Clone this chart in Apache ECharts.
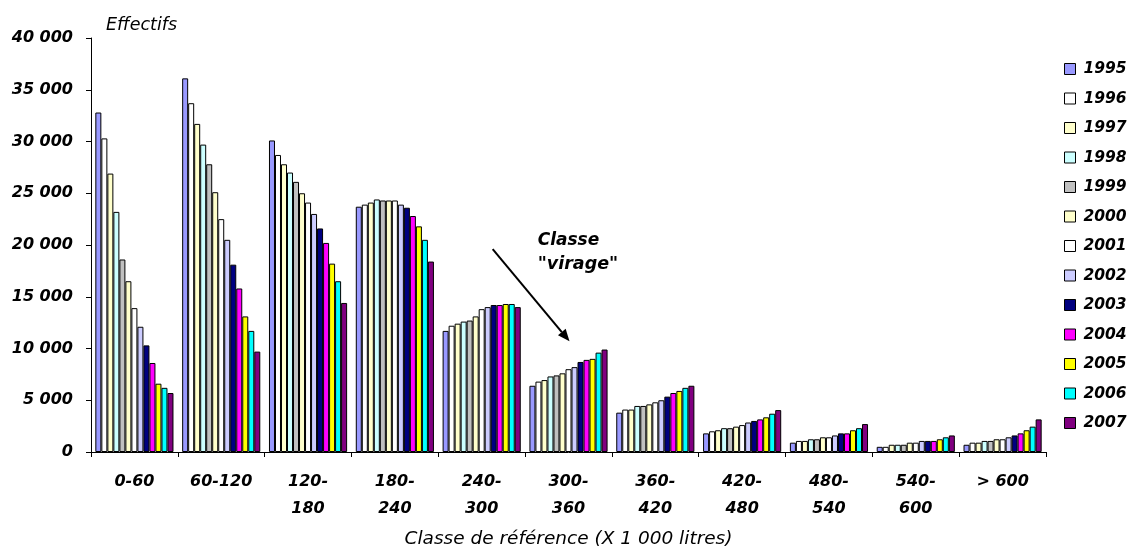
<!DOCTYPE html>
<html>
<head>
<meta charset="utf-8">
<script src="https://cdn.jsdelivr.net/npm/echarts@6/dist/echarts.min.js"></script>
<style>html,body{margin:0;padding:0;background:#fff}#c{width:1128px;height:547px}</style>
</head>
<body>
<div id="c"></div>
<script>
var categories = ['0-60','60-120','120-180','180-240','240-300','300-360','360-420','420-480','480-540','540-600','> 600'];
var years = ['1995','1996','1997','1998','1999','2000','2001','2002','2003','2004','2005','2006','2007'];
var colors = ['#9999FF','#FFFFFF','#FFFFCC','#CCFFFF','#C0C0C0','#FFFFCC','#FFFFFF','#CCCCFF','#000080','#FF00FF','#FFFF00','#00FFFF','#800080'];
var yTicks = {min: 0, max: 40000, interval: 5000};

var v1995 = [32800,36100,30100,23700,11700,6400,3800,1800,900,500,700];
var v1996 = [30300,33700,28700,23900,12200,6800,4100,2000,1070,500,900];
var v1997 = [26900,31700,27800,24100,12400,6950,4100,2100,1070,700,900];
var v1998 = [23200,29700,27000,24400,12600,7300,4450,2300,1230,700,1070];
var v1999 = [18600,27800,26100,24300,12700,7400,4450,2300,1230,700,1070];
var v2000 = [16500,25100,25000,24300,13100,7600,4600,2450,1420,900,1230];
var v2001 = [13900,22500,24100,24300,13800,8000,4800,2600,1420,900,1230];
var v2002 = [12100,20500,23000,23900,14000,8200,5000,2850,1600,1070,1420];
var v2003 = [10300,18100,21600,23600,14200,8700,5350,3000,1800,1070,1600];
var v2004 = [8600,15800,20200,22800,14200,8900,5700,3150,1800,1070,1800];
var v2005 = [6600,13100,18200,21800,14300,9000,5900,3350,2100,1230,2100];
var v2006 = [6200,11700,16500,20500,14300,9600,6200,3700,2300,1420,2450];
var v2007 = [5700,9700,14400,18400,14000,9900,6400,4050,2700,1600,3150];
var values = [v1995,v1996,v1997,v1998,v1999,v2000,v2001,v2002,v2003,v2004,v2005,v2006,v2007];

var FONT = 'DejaVu Sans';
var chart = echarts.init(document.getElementById('c'));

var series = years.map(function (y, i) {
  return {
    name: y,
    type: 'bar',
    data: values[i],
    barGap: '0%',
    barCategoryGap: '10%',
    itemStyle: {color: colors[i], borderColor: '#000', borderWidth: 1},
    emphasis: {disabled: true},
    animation: false
  };
});

chart.setOption({
  animation: false,
  title: {
    text: 'Effectifs', left: 101, top: 11,
    textStyle: {fontFamily: FONT, fontSize: 17.5, fontStyle: 'italic', fontWeight: 'normal', color: '#000'}
  },
  grid: {left: 91, right: 82, top: 38, bottom: 95, containLabel: false, outerBoundsMode: 'none'},
  legend: {
    orient: 'vertical', left: 1059, top: 56,
    itemWidth: 11, itemHeight: 11, itemGap: 13.5,
    icon: 'rect',
    itemStyle: {borderColor: '#000', borderWidth: 1},
    textStyle: {fontFamily: FONT, fontSize: 15.5, fontWeight: 'bold', fontStyle: 'italic', color: '#000', lineHeight: 16, padding: [0,0,0,3]},
    data: years
  },
  xAxis: {
    type: 'category',
    data: categories,
    name: 'Classe de référence (X 1 000 litres)',
    nameLocation: 'middle',
    nameGap: 78,
    nameTextStyle: {fontFamily: FONT, fontSize: 18.5, fontStyle: 'italic', fontWeight: 'normal', color: '#000'},
    axisLine: {lineStyle: {color: '#000', width: 1}},
    axisTick: {show: true, length: 5, lineStyle: {color: '#000'}},
    axisLabel: {
      interval: 0, margin: 16, color: '#000',
      fontFamily: FONT, fontSize: 16, fontWeight: 'bold', fontStyle: 'italic', lineHeight: 27,
      formatter: function (s) { return s.length >= 7 ? s.replace('-', '-\n') : s; }
    },
    splitLine: {show: false}
  },
  yAxis: {
    type: 'value',
    min: yTicks.min, max: yTicks.max, interval: yTicks.interval,
    axisLine: {show: true, lineStyle: {color: '#000', width: 1}},
    axisTick: {show: true, length: 5, lineStyle: {color: '#000'}},
    axisLabel: {
      margin: 18, color: '#000',
      fontFamily: FONT, fontSize: 16, fontWeight: 'bold', fontStyle: 'italic',
      formatter: function (v) { return String(v).replace(/\B(?=(\d{3})+(?!\d))/g, ' '); }
    },
    splitLine: {show: false}
  },
  series: series
});

// Annotation "Classe virage" arrow, positioned through the chart's scales
var p0 = chart.convertToPixel({gridIndex: 0}, [categories[4], 19600]);
var p1 = chart.convertToPixel({gridIndex: 0}, [categories[5], 10700]);
var x0 = p0[0] + 11, y0 = p0[1], x1 = p1[0] + 1, y1 = p1[1];
var ang = Math.atan2(y1 - y0, x1 - x0);
var hl = 12, hw = 5;
var bx = x1 - hl * Math.cos(ang), by = y1 - hl * Math.sin(ang);
var nx = -Math.sin(ang), ny = Math.cos(ang);
chart.setOption({
  graphic: [
    {type: 'line', shape: {x1: x0, y1: y0, x2: bx, y2: by}, style: {stroke: '#000', lineWidth: 2}, silent: true},
    {type: 'polygon', shape: {points: [[x1, y1], [bx + nx * hw, by + ny * hw], [bx - nx * hw, by - ny * hw]]}, style: {fill: '#000'}, silent: true},
    {type: 'text', x: x0 + 45, y: y0 - 9, style: {text: 'Classe', fontFamily: FONT, fontSize: 17, fontWeight: 'bold', fontStyle: 'italic', fill: '#000', verticalAlign: 'middle', align: 'left'}, silent: true},
    {type: 'text', x: x0 + 45, y: y0 + 15, style: {text: '"virage"', fontFamily: FONT, fontSize: 17.5, fontWeight: 'bold', fontStyle: 'italic', fill: '#000', verticalAlign: 'middle', align: 'left'}, silent: true}
  ]
});
</script>
</body>
</html>
